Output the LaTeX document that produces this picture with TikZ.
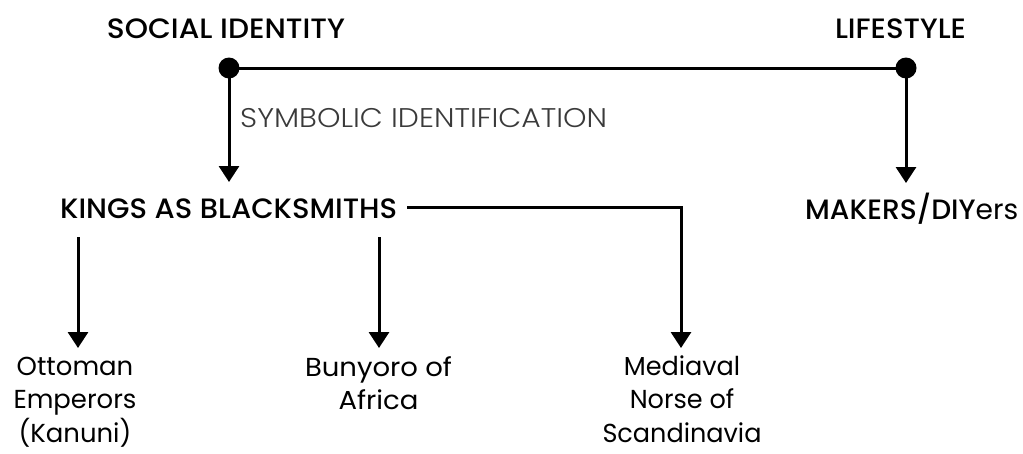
\documentclass[tikz,border=0pt]{standalone}
\usepackage{fontspec}
\usepackage{graphicx}
\setmainfont{Poppins}
\newfontfamily\pmed{Poppins Medium}
\newfontfamily\plight{Poppins Light}
\usetikzlibrary{arrows.meta}
\definecolor{symgray}{HTML}{3A3A3A}
\tikzset{
  head/.style={font=\pmed\fontsize{28}{30}\selectfont, inner sep=0pt, anchor=base},
  leaf/.style={font=\fontsize{26}{33.5}\selectfont, inner sep=0pt, anchor=base},
  symlabel/.style={font=\plight\fontsize{27}{30}\selectfont, text=symgray, inner sep=0pt, anchor=base west},
  conn/.style={line width=3pt},
  arr/.style={conn,-{Triangle[width=20pt,length=16pt]}},
  dotnode/.style={circle, fill=black, minimum size=21pt, inner sep=0pt},
}
\begin{document}
\begin{tikzpicture}[x=1pt,y=-1pt]
\useasboundingbox (0,0) rectangle (1023,453);
% top level
\node[head] (social) at (226,38) {\resizebox{238pt}{\height}{SOCIAL IDENTITY}};
\node[head] (life) at (900.5,38) {\resizebox{131pt}{\height}{LIFESTYLE}};
\node[dotnode] (d1) at (229,68) {};
\node[dotnode] (d2) at (906,68) {};
\draw[conn] (d1.center) -- (d2.center);
% second level
\node[symlabel] (sym) at (240,127) {\resizebox{367pt}{\height}{SYMBOLIC IDENTIFICATION}};
\node[head, anchor=base west] (kings) at (60,218) {\resizebox{337pt}{\height}{KINGS AS BLACKSMITHS}};
\node[head, anchor=base west] (makers) at (805,219) {\resizebox{213pt}{\height}{MAKERS/DIY{\normalfont ers}}};
\coordinate (t1) at (229,182);
\coordinate (t2) at (906,183);
\draw[arr] (d1.center) -- (t1);
\draw[arr] (d2.center) -- (t2);
% third level
\node[leaf, text depth=72pt] (ott) at (75,375) {\resizebox{123pt}{\height}{\begin{tabular}[t]{@{}c@{}}Ottoman\\Emperors\\(Kanuni)\end{tabular}}};
\node[leaf, text depth=40pt] (bun) at (378.5,376) {\resizebox{147pt}{\height}{\begin{tabular}[t]{@{}c@{}}Bunyoro of\\Africa\end{tabular}}};
\node[leaf, text depth=72pt] (med) at (682,375) {\resizebox{159pt}{\height}{\begin{tabular}[t]{@{}c@{}}Mediaval\\Norse of\\Scandinavia\end{tabular}}};
\coordinate (k1) at (78,237);
\coordinate (k2) at (379,237);
\coordinate (k3) at (407,207);
\coordinate (t3) at (78,348);
\coordinate (t4) at (379,348);
\coordinate (t5) at (681,348);
\draw[arr] (k1) -- (t3);
\draw[arr] (k2) -- (t4);
\draw[arr] (k3) -| (t5);
\end{tikzpicture}
\end{document}
